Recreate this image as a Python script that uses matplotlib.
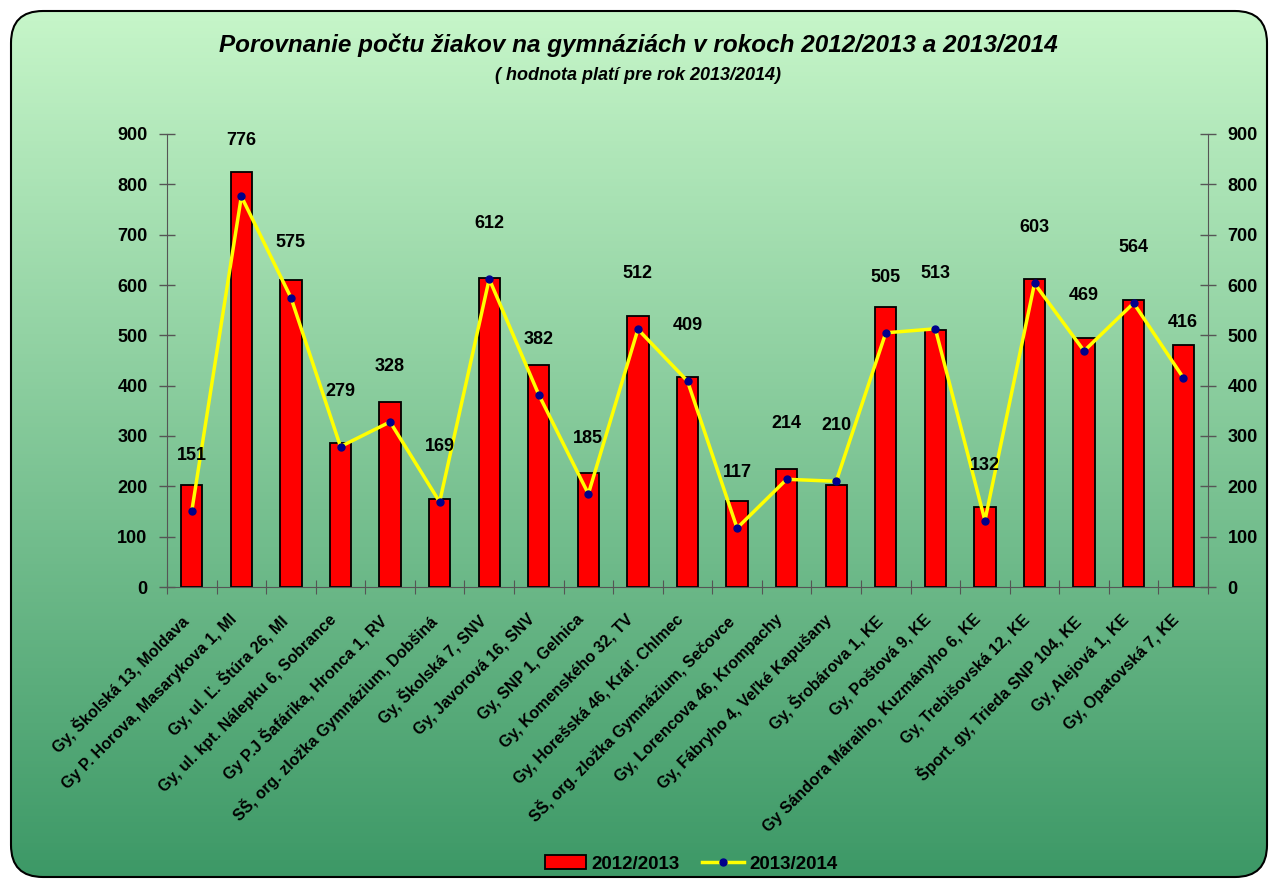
import matplotlib.pyplot as plt
import matplotlib.transforms as mtransforms
import numpy as np
from matplotlib.patches import FancyBboxPatch
from matplotlib.lines import Line2D
from matplotlib.patches import Patch

plt.rcParams["font.family"] = ["Liberation Sans", "DejaVu Sans"]
plt.rcParams["font.weight"] = "bold"

schools = [
    "Gy, Školská 13, Moldava",
    "Gy P. Horova, Masarykova 1, MI",
    "Gy, ul. Ľ. Štúra 26, MI",
    "Gy, ul. kpt. Nálepku 6, Sobrance",
    "Gy P.J Šafárika, Hronca 1, RV",
    "SŠ, org. zložka Gymnázium, Dobšiná",
    "Gy, Školská 7, SNV",
    "Gy, Javorová 16, SNV",
    "Gy, SNP 1, Gelnica",
    "Gy, Komenského 32, TV",
    "Gy, Horešská 46, Kráľ. Chlmec",
    "SŠ, org. zložka Gymnázium, Sečovce",
    "Gy, Lorencova 46, Krompachy",
    "Gy, Fábryho 4, Veľké Kapušany",
    "Gy, Šrobárova 1, KE",
    "Gy, Poštová 9, KE",
    "Gy Sándora Máraiho, Kuzmányho 6, KE",
    "Gy, Trebišovská 12, KE",
    "Šport. gy, Trieda SNP 104, KE",
    "Gy, Alejová 1, KE",
    "Gy, Opatovská 7, KE",
]
y2012 = [203, 825, 609, 287, 368, 175, 614, 441, 227, 538, 417,
         170, 235, 203, 556, 510, 158, 611, 494, 571, 481]
y2013 = [151, 776, 575, 279, 328, 169, 612, 382, 185, 512, 409,
         117, 214, 210, 505, 513, 132, 603, 469, 564, 416]
yticks = [0, 100, 200, 300, 400, 500, 600, 700, 800, 900]

W, H = 1276, 881
fig = plt.figure(figsize=(W / 100, H / 100), dpi=100)
fig.patch.set_facecolor("white")

# green gradient background with rounded border
bg = fig.add_axes([0, 0, 1, 1], zorder=-5)
bg.set_xlim(0, 1)
bg.set_ylim(0, 1)
bg.axis("off")
top = np.array([200, 247, 202]) / 255
bot = np.array([60, 152, 102]) / 255
t = np.linspace(0, 1, 256)[:, None]
grad = (top * (1 - t) + bot * t)[:, None, :]
grad = np.repeat(grad, 2, axis=1)
im = bg.imshow(grad, extent=[0, 1, 0, 1], aspect="auto", origin="upper")
box = FancyBboxPatch((11 / W, 4 / H), 1256 / W, 866 / H,
                     boxstyle="round,pad=0,rounding_size=0.025",
                     mutation_aspect=W / H,
                     transform=bg.transAxes, facecolor="none",
                     edgecolor="black", lw=1.5)
bg.add_patch(box)
im.set_clip_path(box)

ax = fig.add_axes([167 / W, 1 - 587 / H, 1041 / W, 453 / H])
ax.set_facecolor("none")
x = np.arange(len(schools))
ax.bar(x, y2012, width=0.43, color="#ff0000", edgecolor="black", lw=1.3,
       zorder=2)
ax.plot(x, y2013, color="#ffff00", lw=2.5, marker="o", ms=5,
        mfc="#00008b", mec="#00008b", zorder=3)
for xi, v in zip(x, y2013):
    ax.annotate(str(v), (xi, v), xytext=(0, 40), textcoords="offset points",
                ha="center", va="center", fontsize=13, fontweight="bold")

ax.set_xlim(-0.5, len(schools) - 0.5)
ax.set_ylim(0, 900)
ax.set_yticks(yticks)
ax.tick_params(axis="y", which="both", direction="inout", length=12,
               width=1, color="#555555", labelsize=13, right=True,
               labelright=True, pad=8)
ax.set_xticks(np.arange(len(schools) + 1) - 0.5, minor=False)
ax.set_xticklabels([])
ax.set_xticks(x, minor=True)
ax.set_xticklabels(schools, minor=True, rotation=45, ha="right",
                   rotation_mode="anchor", fontsize=11.5, fontweight="bold")
ax.tick_params(axis="x", which="major", direction="inout", length=10,
               color="#555555")
ax.tick_params(axis="x", which="minor", length=0, pad=18)
shift = mtransforms.ScaledTranslation(-12 / 100, 0, fig.dpi_scale_trans)
for lab in ax.get_xticklabels(minor=True):
    lab.set_transform(lab.get_transform() + shift)
for lab in ax.get_yticklabels():
    lab.set_fontweight("bold")
for s in ["left", "right", "bottom"]:
    ax.spines[s].set_color("#555555")
ax.spines["top"].set_visible(False)

fig.text(0.5, 1 - 45 / H, "Porovnanie počtu žiakov na gymnáziách v rokoch 2012/2013 a 2013/2014",
         ha="center", va="center", fontsize=17.5, fontweight="bold",
         style="italic")
fig.text(0.5, 1 - 76 / H, "( hodnota platí pre rok 2013/2014)",
         ha="center", va="center", fontsize=13, fontweight="bold",
         style="italic")

handles = [Patch(facecolor="#ff0000", edgecolor="black", lw=1.3),
           Line2D([0], [0], color="#ffff00", lw=2.5, marker="o", ms=5,
                  mfc="#00008b", mec="#00008b")]
fig.legend(handles, ["2012/2013", "2013/2014"], loc="center",
           bbox_to_anchor=(691 / W, 1 - 864 / H), ncol=2, frameon=False,
           fontsize=13.5, handlelength=2.2, handletextpad=0.3,
           columnspacing=1.2)

fig.savefig("out.png", dpi=100)
